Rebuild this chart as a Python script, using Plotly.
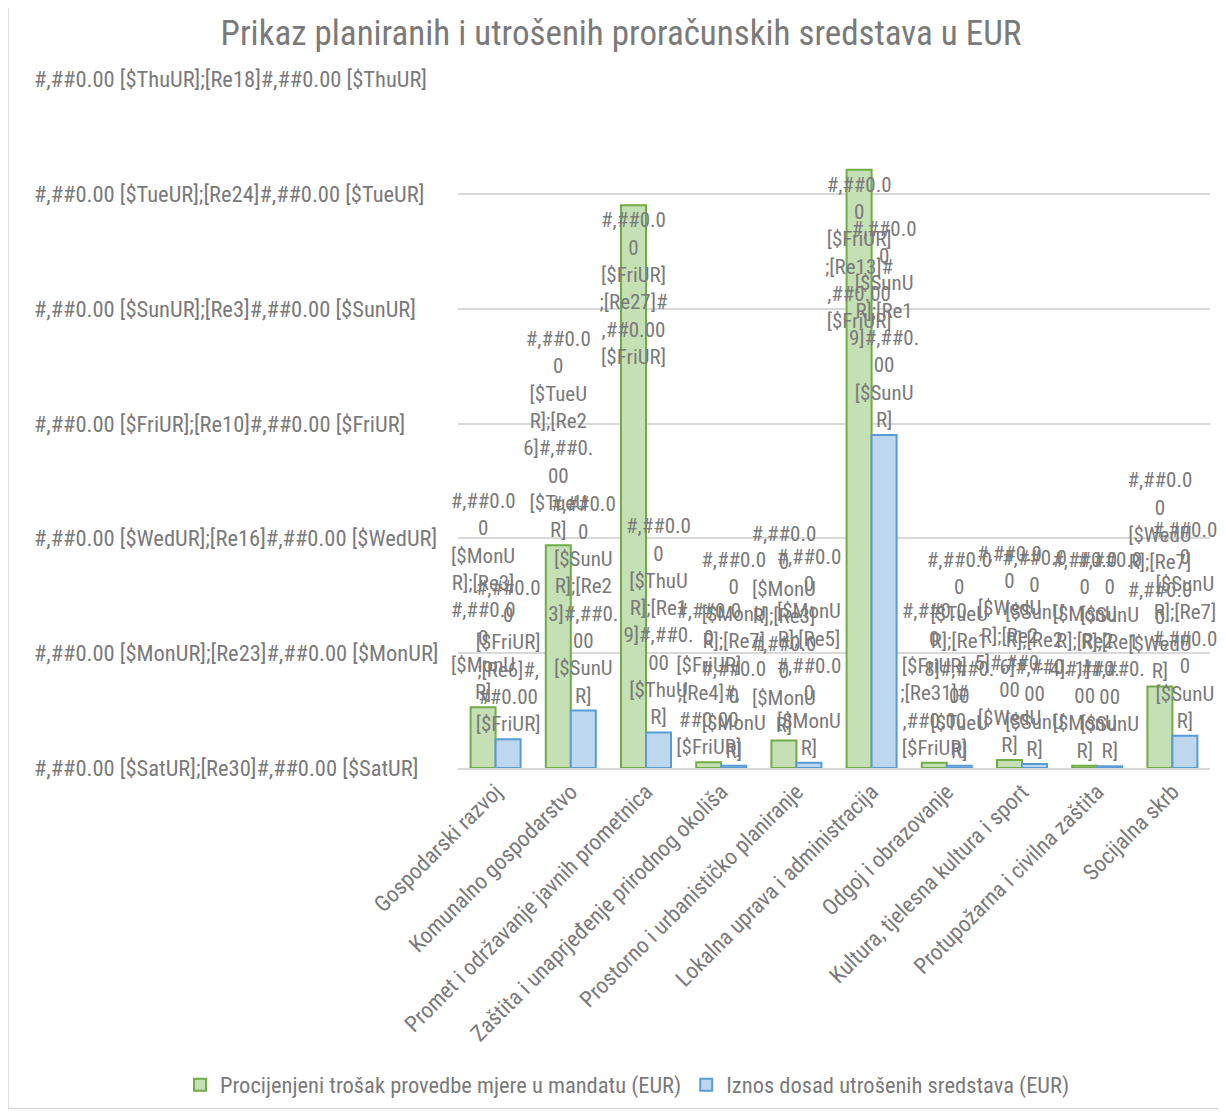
import plotly.graph_objects as go

categories = [
    "Gospodarski razvoj",
    "Komunalno gospodarstvo",
    "Promet i održavanje javnih prometnica",
    "Zaštita i unaprjeđenje prirodnog okoliša",
    "Prostorno i urbanističko planiranje",
    "Lokalna uprava i administracija",
    "Odgoj i obrazovanje",
    "Kultura, tjelesna kultura i sport",
    "Protupožarna i civilna zaštita",
    "Socijalna skrb",
]

series_names = [
    "Procijenjeni trošak provedbe mjere u mandatu (EUR)",
    "Iznos dosad utrošenih sredstava (EUR)",
]

# values in axis-tick units
planned = [0.53, 1.94, 4.90, 0.05, 0.24, 5.21, 0.045, 0.07, 0.02, 0.71]
spent = [0.25, 0.50, 0.31, 0.02, 0.045, 2.90, 0.02, 0.035, 0.015, 0.28]

y_tick_values = [0, 1, 2, 3, 4, 5, 6]
y_tick_labels = [
    "#,##0.00 [$SatUR];[Re30]#,##0.00 [$SatUR]",
    "#,##0.00 [$MonUR];[Re23]#,##0.00 [$MonUR]",
    "#,##0.00 [$WedUR];[Re16]#,##0.00 [$WedUR]",
    "#,##0.00 [$FriUR];[Re10]#,##0.00 [$FriUR]",
    "#,##0.00 [$SunUR];[Re3]#,##0.00 [$SunUR]",
    "#,##0.00 [$TueUR];[Re24]#,##0.00 [$TueUR]",
    "#,##0.00 [$ThuUR];[Re18]#,##0.00 [$ThuUR]",
]

planned_labels = [
    "#,##0.0<br>0<br>[$MonU<br>R];[Re3]<br>#,##0.0<br>0<br>[$MonU<br>R]",
    "#,##0.0<br>0<br>[$TueU<br>R];[Re2<br>6]#,##0.<br>00<br>[$TueU<br>R]",
    "#,##0.0<br>0<br>[$FriUR]<br>;[Re27]#<br>,##0.00<br>[$FriUR]",
    "#,##0.0<br>0<br>[$FriUR]<br>;[Re4]#,<br>##0.00<br>[$FriUR]",
    "#,##0.0<br>0<br>[$MonU<br>R];[Re3]<br>#,##0.0<br>0<br>[$MonU<br>R]",
    "#,##0.0<br>0<br>[$FriUR]<br>;[Re13]#<br>,##0.00<br>[$FriUR]",
    "#,##0.0<br>0<br>[$FriUR]<br>;[Re31]#<br>,##0.00<br>[$FriUR]",
    "#,##0.0<br>0<br>[$WedU<br>R];[Re2<br>5]#,##0.<br>00<br>[$WedU<br>R]",
    "#,##0.0<br>0<br>[$MonU<br>R];[Re2<br>4]#,##0.<br>00<br>[$MonU<br>R]",
    "#,##0.0<br>0<br>[$WedU<br>R];[Re7]<br>#,##0.0<br>0<br>[$WedU<br>R]",
]
spent_labels = [
    "#,##0.0<br>0<br>[$FriUR]<br>;[Re6]#,<br>##0.00<br>[$FriUR]",
    "#,##0.0<br>0<br>[$SunU<br>R];[Re2<br>3]#,##0.<br>00<br>[$SunU<br>R]",
    "#,##0.0<br>0<br>[$ThuU<br>R];[Re1<br>9]#,##0.<br>00<br>[$ThuU<br>R]",
    "#,##0.0<br>0<br>[$MonU<br>R];[Re7]<br>#,##0.0<br>0<br>[$MonU<br>R]",
    "#,##0.0<br>0<br>[$MonU<br>R];[Re5]<br>#,##0.0<br>0<br>[$MonU<br>R]",
    "#,##0.0<br>0<br>[$SunU<br>R];[Re1<br>9]#,##0.<br>00<br>[$SunU<br>R]",
    "#,##0.0<br>0<br>[$TueU<br>R];[Re1<br>8]#,##0.<br>00<br>[$TueU<br>R]",
    "#,##0.0<br>0<br>[$SunU<br>R];[Re2<br>6]#,##0.<br>00<br>[$SunU<br>R]",
    "#,##0.0<br>0<br>[$SunU<br>R];[Re1<br>1]#,##0.<br>00<br>[$SunU<br>R]",
    "#,##0.0<br>0<br>[$SunU<br>R];[Re7]<br>#,##0.0<br>0<br>[$SunU<br>R]",
]
planned_label_pos = ["outside", "outside", "inside", "outside", "outside",
                     "inside", "outside", "outside", "outside", "outside"]

FONT = "Liberation Sans Narrow, Arial Narrow, Roboto Condensed, sans-serif"
GRAY = "#7a7a7a"
AXIS_SIZE = 22.5
LABEL_SIZE = 21

# page offset of the figure (browser body margin)
OX, OY = 8, 8
W, H = 1226 - OX, 1117 - OY
L = 458 - OX
T = 79 - OY
plot_bottom = 769 - OY
plot_right = 1210 - OX
B = H - plot_bottom
R = W - plot_right
pw = W - L - R
ph = H - T - B


def px_x(p):  # page pixel -> paper x
    return (p - OX - L) / pw


def px_y(p):  # page pixel -> paper y
    return (plot_bottom - (p - OY)) / ph


fig = go.Figure()
fig.add_trace(go.Bar(
    x=categories, y=planned, name=series_names[0],
    marker=dict(color="#c5e0b4", line=dict(color="#70ad47", width=2)),
    text=planned_labels, textposition=planned_label_pos,
    insidetextanchor="end", textangle=0, constraintext="none",
    textfont=dict(family=FONT, size=LABEL_SIZE, color=GRAY),
    cliponaxis=False, hoverinfo="skip",
))
fig.add_trace(go.Bar(
    x=categories, y=spent, name=series_names[1],
    marker=dict(color="#bdd7ee", line=dict(color="#5b9bd5", width=2)),
    text=spent_labels, textposition="outside", textangle=0,
    constraintext="none",
    textfont=dict(family=FONT, size=LABEL_SIZE, color=GRAY),
    cliponaxis=False, hoverinfo="skip",
))

for v, lab in zip(y_tick_values, y_tick_labels):
    fig.add_annotation(
        x=px_x(32), xref="paper", xanchor="left",
        y=v, yref="y", yanchor="middle",
        text=lab, showarrow=False,
        font=dict(family=FONT, size=AXIS_SIZE, color=GRAY),
    )

fig.add_shape(
    type="rect", xref="paper", yref="paper",
    x0=px_x(8), x1=px_x(1240),
    y0=px_y(1110), y1=px_y(-5),
    line=dict(color="#d9d9d9", width=1.5), layer="below",
)

fig.update_layout(
    width=W, height=H,
    margin=dict(l=L, r=R, t=T, b=B),
    paper_bgcolor="white", plot_bgcolor="white",
    barmode="group", bargap=0.335, bargroupgap=0,
    title=dict(
        text="Prikaz planiranih i utrošenih proračunskih sredstava u EUR",
        x=(621 - OX) / W, xref="container", xanchor="center",
        y=1 - (33 - OY) / H, yref="container", yanchor="middle",
        font=dict(family=FONT, size=35, color=GRAY),
    ),
    font=dict(family=FONT, color=GRAY),
    showlegend=True,
    legend=dict(
        orientation="h", x=px_x(180), xanchor="left",
        y=px_y(1085), yanchor="middle",
        font=dict(family=FONT, size=AXIS_SIZE, color=GRAY),
    ),
    xaxis=dict(
        tickangle=-45, tickfont=dict(family=FONT, size=AXIS_SIZE, color=GRAY),
        showgrid=False, showline=True, linecolor="#d9d9d9", linewidth=1.5,
        ticks="",
    ),
    yaxis=dict(
        range=[0, 6], tickvals=y_tick_values, showticklabels=False,
        showgrid=True, gridcolor="#d9d9d9", gridwidth=1.5,
        zeroline=False, showline=False,
    ),
)

fig.write_html("out.html")
